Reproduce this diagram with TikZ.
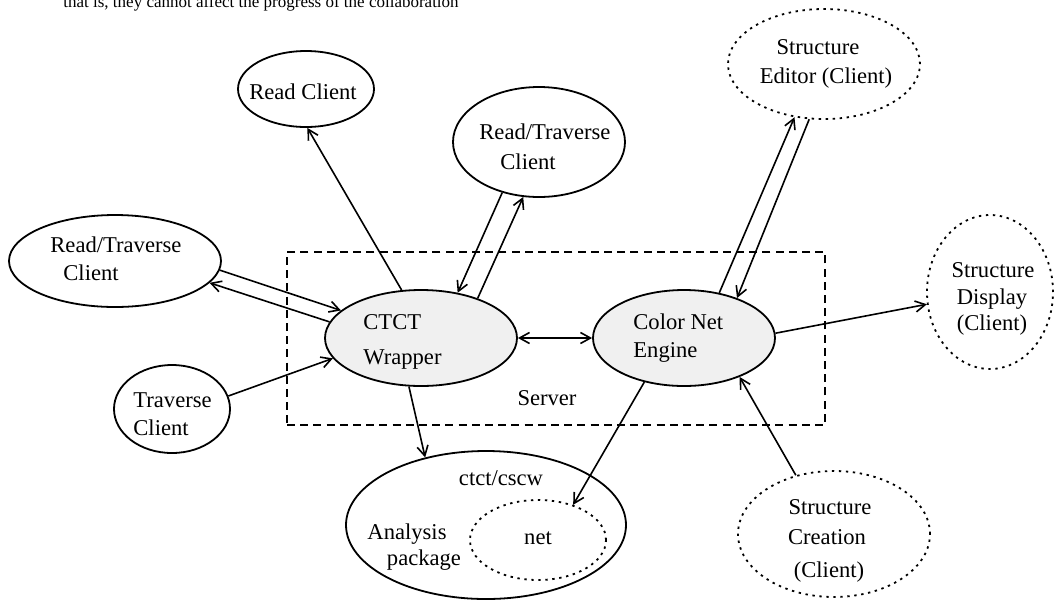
\documentclass[tikz,border=0pt]{standalone}
\usepackage{fontspec}
\setmainfont{Liberation Serif}
\usetikzlibrary{shapes.geometric,arrows.meta}
\definecolor{nodegray}{HTML}{F0F0F0}
\begin{document}
\begin{tikzpicture}[x=0.5pt,y=-0.5pt,
  every node/.style={font=\fontsize{11.3}{13}\selectfont},
  shp/.style={ellipse, draw, line width=0.9pt, inner sep=0pt},
  solidell/.style={shp},
  dotell/.style={shp, dash pattern=on 1.2pt off 2.3pt},
  grayell/.style={shp, fill=nodegray},
  txt/.style={inner sep=0pt},
  tip/.tip={Straight Barb[length=5pt,width=5.5pt]},
  conn/.style={line width=0.8pt, -tip},
  bconn/.style={line width=0.8pt, tip-tip},
  serverbox/.style={draw, line width=0.75pt, dash pattern=on 4pt off 2.6pt, inner sep=0pt}
]
\useasboundingbox (0,0) rectangle (1055,601);
\clip (0,0) rectangle (1055,601);

% caption fragment at the top (cut off in the reference)
\node[txt, anchor=base west, font=\fontsize{8.5}{10}\selectfont] (cap) at (63,7) {that is, they cannot affect the progress of the collaboration};

% server box
\node[serverbox, minimum width=269pt, minimum height=86.5pt] (server) at (556,338.5) {};
\node[txt, anchor=base] (serverlbl) at (547,405) {Server};

% ellipses
\node[solidell, minimum width=68pt, minimum height=38pt] (rc) at (306,89) {};
\node[solidell, minimum width=86pt, minimum height=55pt] (rt1) at (539,142) {};
\node[solidell, minimum width=106pt, minimum height=46pt] (rt2) at (115,261) {};
\node[solidell, minimum width=58pt, minimum height=44pt] (tc) at (172,409) {};
\node[grayell, minimum width=96pt, minimum height=48pt] (ctct) at (421,338) {};
\node[grayell, minimum width=91pt, minimum height=48pt] (cne) at (684,338) {};
\node[dotell, minimum width=96pt, minimum height=55pt] (se) at (824,64) {};
\node[dotell, minimum width=63pt, minimum height=77pt] (sd) at (990,292) {};
\node[dotell, minimum width=96pt, minimum height=63pt] (sc) at (834,534) {};
\node[solidell, minimum width=140pt, minimum height=74pt] (cc) at (486,525) {};
\node[dotell, minimum width=68pt, minimum height=40pt] (net) at (538,540) {};

% texts
\node[txt, anchor=base] (rcT) at (303,99) {Read Client};
\node[txt, anchor=base west] (rt1a) at (479,139) {Read/Traverse};
\node[txt, anchor=base west] (rt1b) at (500,169) {Client};
\node[txt, anchor=base west] (rt2a) at (50,252) {Read/Traverse};
\node[txt, anchor=base west] (rt2b) at (63,280) {Client};
\node[txt, anchor=base west] (tca) at (133,407) {Traverse};
\node[txt, anchor=base west] (tcb) at (133,435) {Client};
\node[txt, anchor=base west] (ctcta) at (363,329) {CTCT};
\node[txt, anchor=base west] (ctctb) at (363,364) {Wrapper};
\node[txt, anchor=base west] (cnea) at (633,329) {Color Net};
\node[txt, anchor=base west] (cneb) at (633,357) {Engine};
\node[txt, anchor=base] (sea) at (818,54) {Structure};
\node[txt, anchor=base] (seb) at (826,83) {Editor (Client)};
\node[txt, anchor=base] (sda) at (993,277) {Structure};
\node[txt, anchor=base] (sdb) at (992,304) {Display};
\node[txt, anchor=base] (sdc) at (992,330) {(Client)};
\node[txt, anchor=base] (sca) at (830,514) {Structure};
\node[txt, anchor=base] (scb) at (827,544) {Creation};
\node[txt, anchor=base] (scc) at (829,577) {(Client)};
\node[txt, anchor=base] (cca) at (501,485) {ctct/cscw};
\node[txt, anchor=base] (ccb) at (407,539) {Analysis};
\node[txt, anchor=base] (ccc) at (424,565) {package};
\node[txt, anchor=base] (netT) at (538,544) {net};

% connectors
\draw[conn] (ctct.112) -- (rc.-88);
\draw[conn] (rt1.-126) -- (ctct.51);
\draw[conn] (ctct.35) -- (rt1.-106.2);
\draw[conn] (rt2.-5) -- (ctct.161.6);
\draw[conn] (ctct.170) -- (rt2.-13.2);
\draw[conn] (tc.13.6) -- (ctct.193.6);
\draw[bconn] (ctct.east) -- (cne.west);
\draw[conn] (ctct.-104) -- (cc.132.3);
\draw[conn] (cne.-132.3) -- (net.45);
\draw[conn] (cne.52.9) -- (se.-119.9);
\draw[conn] (se.-105.5) -- (cne.37.7);
\draw[conn] (cne.3) -- (sd.191.3);
\draw[conn] (sc.123) -- (cne.-35.5);
\end{tikzpicture}
\end{document}
